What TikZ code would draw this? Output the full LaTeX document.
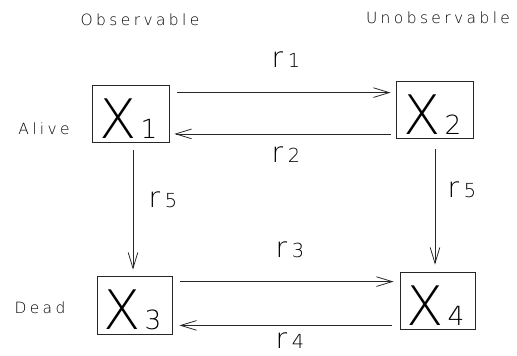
\documentclass[tikz,border=0pt]{standalone}
\usepackage{fontspec}
\setmainfont{DejaVu Sans ExtraLight}
\newfontfamily\spaced[LetterSpace=22]{DejaVu Sans ExtraLight}
\usetikzlibrary{arrows.meta,calc}
\begin{document}
\begin{tikzpicture}[x=0.02cm,y=-0.02cm,
  state/.style={draw=black!85,line width=0.45pt,inner sep=0pt},
  stlab/.style={inner sep=0pt,font=\fontsize{31}{31}\selectfont},
  conn/.style={draw=black!85,line width=0.45pt,-{Straight Barb[length=9pt,width=5.5pt]}},
  rlab/.style={font=\fontsize{16}{16}\selectfont},
  side/.style={font=\spaced\fontsize{8.8}{8.8}\selectfont}]
\useasboundingbox (0,0) rectangle (517,355);
\newcommand{\xsub}[1]{X\kern2pt{\fontsize{15}{15}\selectfont #1}}
\node[state,minimum width=77*0.02cm,minimum height=57*0.02cm] (X1) at (130.5,113.5) {};
\node[state,minimum width=77*0.02cm,minimum height=57*0.02cm] (X2) at (434.5,110) {};
\node[state,minimum width=75*0.02cm,minimum height=58*0.02cm] (X3) at (134.5,305) {};
\node[state,minimum width=75*0.02cm,minimum height=57*0.02cm] (X4) at (437.5,300.5) {};
\node[stlab] (t1) at ($(X1)+(-2,5)$) {\xsub{1}};
\node[stlab] (t2) at ($(X2)+(-2,5)$) {\xsub{2}};
\node[stlab] (t3) at ($(X3)+(-2,5)$) {\xsub{3}};
\node[stlab] (t4) at ($(X4)+(-2,5)$) {\xsub{4}};
\node[side] (obs) at (140,20) {Observable};
\node[side] (unobs) at (438,18) {Unobservable};
\node[side] (alive) at (44,129) {Alive};
\node[side] (dead) at (40,308) {Dead};
% horizontal arrows
\coordinate (a1) at ($(X1.north east)+(8,8)$);
\draw[conn] (a1) -- ($(a1 -| X2.west)+(-5,0)$);
\coordinate (a2) at ($(X2.south west)+(-5,-5)$);
\draw[conn] (a2) -- ($(a2 -| X1.east)+(5,0)$);
\coordinate (a3) at ($(X3.north east)+(8,6)$);
\draw[conn] (a3) -- ($(a3 -| X4.west)+(-6,0)$);
\coordinate (a4) at ($(X4.south west)+(-8,-4)$);
\draw[conn] (a4) -- ($(a4 -| X3.east)+(7,0)$);
% vertical arrows
\draw[conn] ($(X1.south)+(2.5,8)$) -- ($(X1.south |- X3.north)+(2.5,-6)$);
\draw[conn] ($(X2.south)+(0.5,10)$) -- ($(X2.south |- X4.north)+(0.5,-7)$);
% labels
\node[rlab] (r1) at (286,60) {r\,{\fontsize{11}{11}\selectfont 1}};
\node[rlab] (r2) at (286,155) {r\,{\fontsize{11}{11}\selectfont 2}};
\node[rlab] (r5a) at (163,200) {r\,{\fontsize{11}{11}\selectfont 5}};
\node[rlab] (r5b) at (462,190) {r\,{\fontsize{11}{11}\selectfont 5}};
\node[rlab] (r3) at (290,250) {r\,{\fontsize{11}{11}\selectfont 3}};
\node[rlab] (r4) at (290,341) {r\,{\fontsize{11}{11}\selectfont 4}};
\end{tikzpicture}
\end{document}
